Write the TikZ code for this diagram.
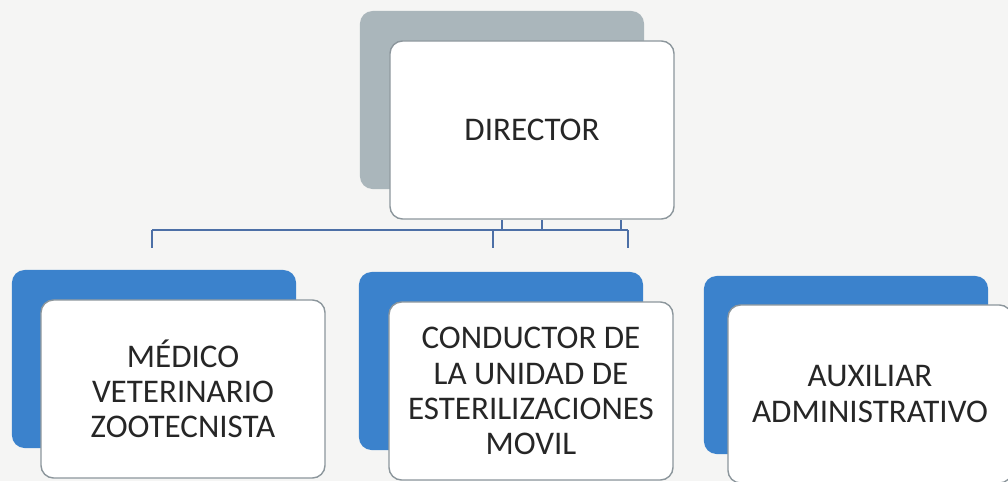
\documentclass[tikz,border=0pt]{standalone}
\usepackage{fontspec}
\setmainfont{Carlito}
\definecolor{paper}{HTML}{F5F5F4}
\definecolor{grayback}{HTML}{AAB6BB}
\definecolor{blueback}{HTML}{3B82CC}
\definecolor{linkblue}{HTML}{4C6FA6}
\definecolor{boxline}{HTML}{8C969C}
\tikzset{
  backbox/.style={rounded corners=9pt, minimum width=7.1cm, minimum height=4.45cm, inner sep=0pt},
  frontbox/.style={draw=boxline, line width=1pt, fill=white, rounded corners=9pt,
    minimum width=7.1cm, minimum height=4.45cm, align=center,
    font=\fontsize{23.5}{25}\selectfont, text=black!85},
  link/.style={draw=linkblue, line width=1.3pt}
}
\begin{document}
\begin{tikzpicture}[x=0.025cm, y=-0.025cm]
  \useasboundingbox[fill=paper] (0,0) rectangle (1008,481);
  % director
  \node[backbox, fill=grayback] (dirback) at (502,100) {};
  \node[frontbox] (dir) at (532,130) {DIRECTOR};
  % lines under the director
  \coordinate (j0) at (152,230);
  \coordinate (j1) at (493,230);
  \coordinate (j2) at (628,230);
  \coordinate (u1) at (502,230);
  \coordinate (u2) at (542,230);
  \coordinate (u3) at (621,230);
  \draw[link] (j0) -- (j2);
  \foreach \j in {j0,j1,j2} \draw[link] (\j) -- ++(0,18);
  \foreach \u in {u1,u2,u3} \draw[link] (\u) -- (\u |- dir.south);
  % staff
  \node[backbox, fill=blueback] (medback) at (154,359) {};
  \node[frontbox] (med) at (183,389) {MÉDICO\\VETERINARIO\\ZOOTECNISTA};
  \node[backbox, fill=blueback] (condback) at (501,361) {};
  \node[frontbox] (cond) at (531,391) {CONDUCTOR DE\\LA UNIDAD DE\\ESTERILIZACIONES\\MOVIL};
  \node[backbox, fill=blueback] (auxback) at (846,365) {};
  \node[frontbox] (aux) at (870,394) {AUXILIAR\\ADMINISTRATIVO};
\end{tikzpicture}
\end{document}
